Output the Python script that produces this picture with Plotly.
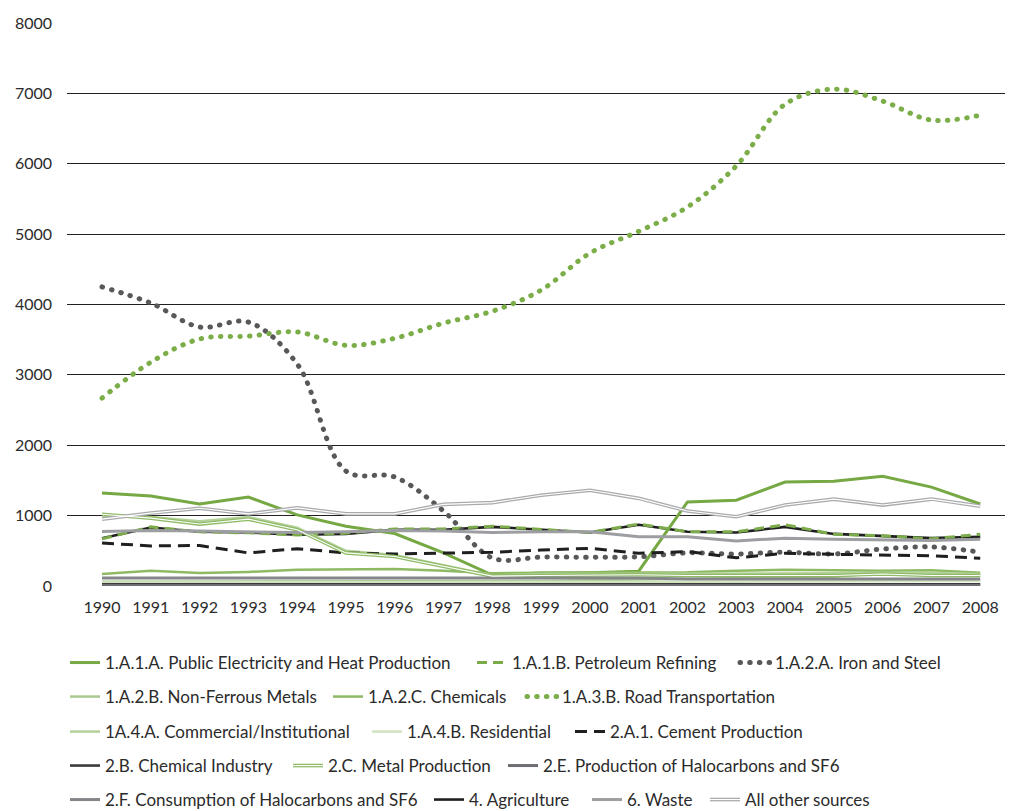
import plotly.graph_objects as go

years = list(range(1990, 2009))

elec = [1320, 1280, 1165, 1265, 1010, 850, 745, 470, 155, 185, 190, 210, 1195, 1220, 1477, 1490, 1560, 1405, 1165]
petro = [670, 840, 770, 755, 725, 750, 810, 810, 850, 810, 760, 880, 770, 770, 870, 735, 715, 670, 735]
iron = [4250, 4020, 3680, 3750, 3155, 1633, 1548, 1065, 398, 410, 410, 415, 470, 455, 480, 455, 525, 555, 480]
nonferrous = [60, 60, 60, 60, 60, 60, 60, 60, 60, 70, 80, 90, 110, 110, 120, 130, 190, 170, 150]
chemicals = [170, 215, 185, 200, 230, 230, 240, 215, 180, 190, 190, 200, 195, 215, 230, 225, 215, 225, 190]
road = [2670, 3180, 3510, 3550, 3610, 3420, 3520, 3735, 3905, 4205, 4730, 5040, 5385, 5970, 6845, 7060, 6890, 6620, 6690]
commercial = [1000, 980, 920, 980, 830, 500, 440, 300, 150, 170, 170, 170, 170, 175, 180, 180, 190, 190, 170]
residential = [50, 50, 50, 50, 50, 50, 50, 50, 50, 50, 50, 55, 60, 60, 65, 70, 70, 70, 70]
cement = [610, 570, 575, 470, 530, 470, 455, 470, 480, 510, 535, 465, 490, 400, 465, 450, 440, 430, 395]
chem_ind = [25, 25, 25, 25, 25, 25, 25, 25, 25, 25, 25, 25, 25, 25, 25, 25, 25, 25, 25]
metal = [1020, 965, 880, 950, 800, 470, 420, 280, 140, 150, 160, 160, 150, 150, 160, 150, 170, 150, 150]
halo_prod = [8, 8, 8, 8, 8, 8, 8, 8, 8, 8, 8, 8, 8, 8, 8, 8, 8, 8, 8]
halo_cons = [115, 115, 115, 115, 115, 115, 115, 115, 120, 120, 115, 115, 100, 95, 100, 100, 95, 100, 100]
agri = [680, 830, 770, 760, 730, 740, 800, 800, 840, 800, 760, 870, 770, 760, 840, 740, 710, 680, 700]
waste = [775, 790, 780, 775, 760, 770, 790, 780, 760, 770, 770, 700, 700, 640, 680, 665, 655, 645, 665]
other = [950, 1035, 1105, 1025, 1110, 1025, 1025, 1160, 1185, 1290, 1360, 1245, 1065, 985, 1150, 1235, 1150, 1235, 1135]

y_ticks = [0, 1000, 2000, 3000, 4000, 5000, 6000, 7000, 8000]

FONT = "Lato"
TXT = "#2b2b2b"

# (name, data, color, width, dash, shape, double, legend symbol start px, row)
series = [
    ("4. Agriculture", agri, "#1f1f1f", 2.6, "solid", "linear", False, 434, 4),
    ("1.A.1.A. Public Electricity and Heat Production", elec, "#76a843", 3, "solid", "linear", False, 70, 0),
    ("1.A.1.B. Petroleum Refining", petro, "#7bab4a", 3, "10px,6px", "linear", False, 477, 0),
    ("1.A.2.A. Iron and Steel", iron, "#58585a", 5, "0.5px,9.2px", "spline", False, 740, 0),
    ("1.A.2.B. Non-Ferrous Metals", nonferrous, "#a9c98e", 2.5, "solid", "linear", False, 70, 1),
    ("1.A.2.C. Chemicals", chemicals, "#8dba63", 2.5, "solid", "linear", False, 333, 1),
    ("1.A.3.B. Road Transportation", road, "#7bae48", 5, "0.5px,9.2px", "spline", False, 527, 1),
    ("1A.4.A. Commercial/Institutional", commercial, "#b4d19a", 2.5, "solid", "linear", False, 70, 2),
    ("1.A.4.B. Residential", residential, "#d2e3c1", 2.5, "solid", "linear", False, 372, 2),
    ("2.A.1. Cement Production", cement, "#1f1f1f", 3, "12px,7px", "linear", False, 575, 2),
    ("2.B. Chemical Industry", chem_ind, "#3a3a3a", 2.6, "solid", "linear", False, 70, 3),
    ("2.C. Metal Production", metal, "#8fbb66", 3.6, "solid", "linear", True, 293, 3),
    ("2.E. Production of Halocarbons and SF6", halo_prod, "#6d6e71", 3, "solid", "linear", False, 508, 3),
    ("2.F. Consumption of Halocarbons and SF6", halo_cons, "#85868a", 3, "solid", "linear", False, 70, 4),
    ("6. Waste", waste, "#9d9ea1", 3, "solid", "linear", False, 592, 4),
    ("All other sources", other, "#a9aaad", 3.6, "solid", "linear", True, 710, 4),
]

row_y = [663, 697, 732, 766, 800]
OFF = 8  # page body margin
W, H = 1013 - OFF, 811 - OFF

fig = go.Figure()
layout_legends = {}
n_leg = 1  # leave the main "legend" unused


def new_legend(sx, row):
    global n_leg
    n_leg += 1
    lname = f"legend{n_leg}"
    layout_legends[lname] = dict(
        xref="container", yref="container",
        x=(sx - 5 - OFF) / W, y=1 - (row_y[row] - OFF) / H,
        xanchor="left", yanchor="middle",
        orientation="h", bgcolor="rgba(0,0,0,0)",
        font=dict(family=FONT, size=17, color=TXT),
        itemwidth=30,
    )
    return lname


overlays = []
for (name, vals, color, width, dash, shape, double, sx, row) in series:
    lname = new_legend(sx, row)
    fig.add_trace(go.Scatter(
        x=years, y=vals, name=name, mode="lines",
        line=dict(color=color, width=width, dash=dash, shape=shape),
        legend=lname, showlegend=True, hoverinfo="skip",
    ))
    if double:
        overlays.append((name, vals, shape, sx, row))

for (name, vals, shape, sx, row) in overlays:
    lname = new_legend(sx, row)
    fig.add_trace(go.Scatter(
        x=years, y=vals, name=" ", mode="lines",
        line=dict(color="white", width=1.1, shape=shape),
        legend=lname, showlegend=True, hoverinfo="skip",
    ))

fig.update_layout(
    width=W, height=H,
    showlegend=True,
    margin=dict(l=67 - OFF, r=3, t=23 - OFF, b=H - (586 - OFF)),
    paper_bgcolor="white", plot_bgcolor="white",
    font=dict(family=FONT, size=16, color=TXT),
    xaxis=dict(
        range=[1989.2825, 2008.61], tickmode="array", tickvals=years,
        ticktext=[str(y) for y in years], showgrid=False, zeroline=False,
        showline=False, ticks="", ticklabelstandoff=10,
    ),
    yaxis=dict(
        range=[0, 8000], tickmode="array", tickvals=y_ticks,
        ticktext=[str(v) for v in y_ticks], showgrid=True,
        gridcolor="#231f20", gridwidth=1.4, zeroline=False, showline=False,
        ticks="", ticklabelstandoff=14,
    ),
    **layout_legends,
)

post = """
document.querySelectorAll('path.js-line').forEach(function(p){
  var d = p.style.strokeDasharray || p.getAttribute('stroke-dasharray') || '';
  if (d.indexOf('0.5px') === 0) { p.style.strokeLinecap = 'round'; }
});
"""
fig.write_html("out.html", post_script=post)
